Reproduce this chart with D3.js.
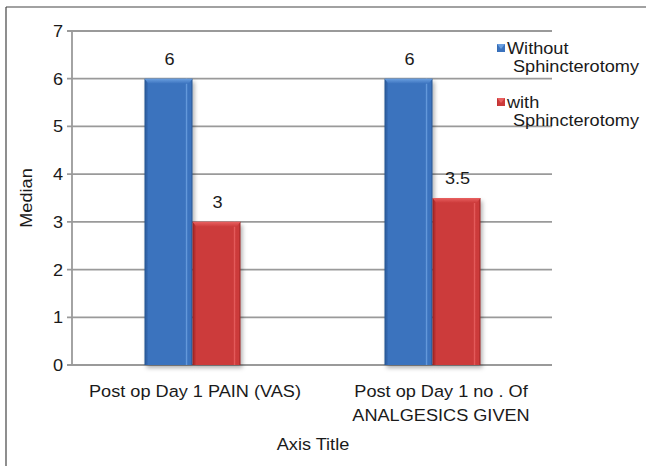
<!DOCTYPE html>
<html><head><meta charset="utf-8">
<script src="https://cdn.jsdelivr.net/npm/d3@7"></script>
<style>body{margin:0;background:#fff}svg{display:block}text{font-family:"Liberation Sans",Arial,sans-serif;fill:#1a1a1a}</style>
</head><body>
<svg id="c" width="646" height="466"></svg>
<script>
const categories = [["Post op Day 1 PAIN (VAS)"], ["Post op Day 1 no . Of", "ANALGESICS GIVEN"]];
const seriesNames = [["Without", "Sphincterotomy"], ["with", "Sphincterotomy"]];
const withoutVals = [6, 6];
const withVals = [3, 3.5];
const yTicks = [0, 1, 2, 3, 4, 5, 6, 7];
const colors = [["#6a9fe0", "#3b73be", "#24528f"], ["#e86060", "#cc3a3a", "#962020"]];

const FS = 16.5, SX = 1.1;
const svg = d3.select("#c");
function txt(parent, x, y, str, anchor, size) {
  return parent.append("text").attr("transform", `translate(${x},${y}) scale(${SX},1)`)
    .attr("text-anchor", anchor || "start").attr("font-size", size || FS).text(str);
}

const defs = svg.append("defs");
colors.forEach((c, i) => {
  const g = defs.append("linearGradient").attr("id", "g" + i).attr("x1", 0).attr("x2", 1).attr("y1", 0).attr("y2", 0);
  [[0, c[2]], [0.08, c[1]], [0.85, c[1]], [0.88, c[0]], [0.9, c[1]], [0.96, c[1]], [1, c[2]]]
    .forEach(s => g.append("stop").attr("offset", s[0]).attr("stop-color", s[1]));
  const t = defs.append("linearGradient").attr("id", "t" + i).attr("x1", 0).attr("x2", 0).attr("y1", 0).attr("y2", 1);
  t.append("stop").attr("offset", "0").attr("stop-color", c[0]);
  t.append("stop").attr("offset", "1").attr("stop-color", c[1]);
});
const f = defs.append("filter").attr("id", "sh").attr("x", "-20%").attr("y", "-5%").attr("width", "150%").attr("height", "115%");
f.append("feDropShadow").attr("dx", 2).attr("dy", 3).attr("stdDeviation", 2).attr("flood-color", "#000").attr("flood-opacity", 0.3);

// outer border
svg.append("line").attr("x1", 6).attr("x2", 646).attr("y1", 7).attr("y2", 7).attr("stroke", "#444").attr("stroke-width", 1.2);
svg.append("line").attr("x1", 6).attr("x2", 6).attr("y1", 7).attr("y2", 466).attr("stroke", "#444").attr("stroke-width", 1.2);

const L = 72, R = 552, T = 31, B = 365;
const y = d3.scaleLinear().domain([0, 7]).range([B, T]);
const x0 = d3.scaleBand().domain(d3.range(categories.length)).range([L, R]);
const x1 = d3.scaleBand().domain([0, 1]).range([x0.bandwidth() / 2 - 47.5, x0.bandwidth() / 2 + 48.5]);

// gridlines
svg.append("g").selectAll("line").data(yTicks).join("line")
  .attr("x1", L - 5).attr("x2", R).attr("y1", d => y(d)).attr("y2", d => y(d))
  .attr("stroke", "#9a9a9a").attr("stroke-width", 1.8);
svg.append("line").attr("x1", L).attr("x2", L).attr("y1", T).attr("y2", B).attr("stroke", "#9a9a9a").attr("stroke-width", 1.8);

// y labels
const yl = svg.append("g");
yTicks.forEach(d => txt(yl, 63, y(d) + 6, d, "end"));

svg.append("text").attr("transform", `translate(32,198) rotate(-90) scale(${SX},1)`)
  .attr("text-anchor", "middle").attr("font-size", FS).text("Median");

const series = [withoutVals, withVals];
series.forEach((vals, si) => {
  const g = svg.append("g");
  const bars = g.selectAll("g").data(vals).join("g")
    .attr("transform", (d, i) => `translate(${x0(i) + x1(si)},0)`);
  bars.append("rect").attr("x", 0).attr("y", d => y(d)).attr("width", x1.bandwidth()).attr("height", d => B - y(d))
    .attr("fill", `url(#g${si})`).attr("filter", "url(#sh)");
  bars.append("path").attr("d", d => {
    const w = x1.bandwidth(), t = y(d);
    return `M0,${t}L${w},${t}L${w - 4},${t + 5}L4,${t + 5}Z`;
  }).attr("fill", `url(#t${si})`);
  bars.each(function (d) { txt(d3.select(this), x1.bandwidth() / 2 + 1, y(d) - 14, d, "middle"); });
});

// category labels
const labelOffsets = [3, 9];
categories.forEach((lines, i) => {
  const cx = x0(i) + x0.bandwidth() / 2 + labelOffsets[i];
  lines.forEach((ln, k) => txt(svg, cx, 397 + k * 24, ln, "middle"));
});
txt(svg, 313, 450, "Axis Title", "middle");

// legend
seriesNames.forEach((lines, i) => {
  const base = 54 + i * 54;
  svg.append("rect").attr("x", 497).attr("y", base - 10).attr("width", 8).attr("height", 8).attr("fill", `url(#g${i})`);
  svg.append("path").attr("d", `M497,${base - 10}L505,${base - 10}L501,${base - 5}Z`).attr("fill", colors[i][0]);
  lines.forEach((ln, k) => txt(svg, k ? 513 : 507, base + k * 18, ln, "start"));
});
</script>
</body></html>
